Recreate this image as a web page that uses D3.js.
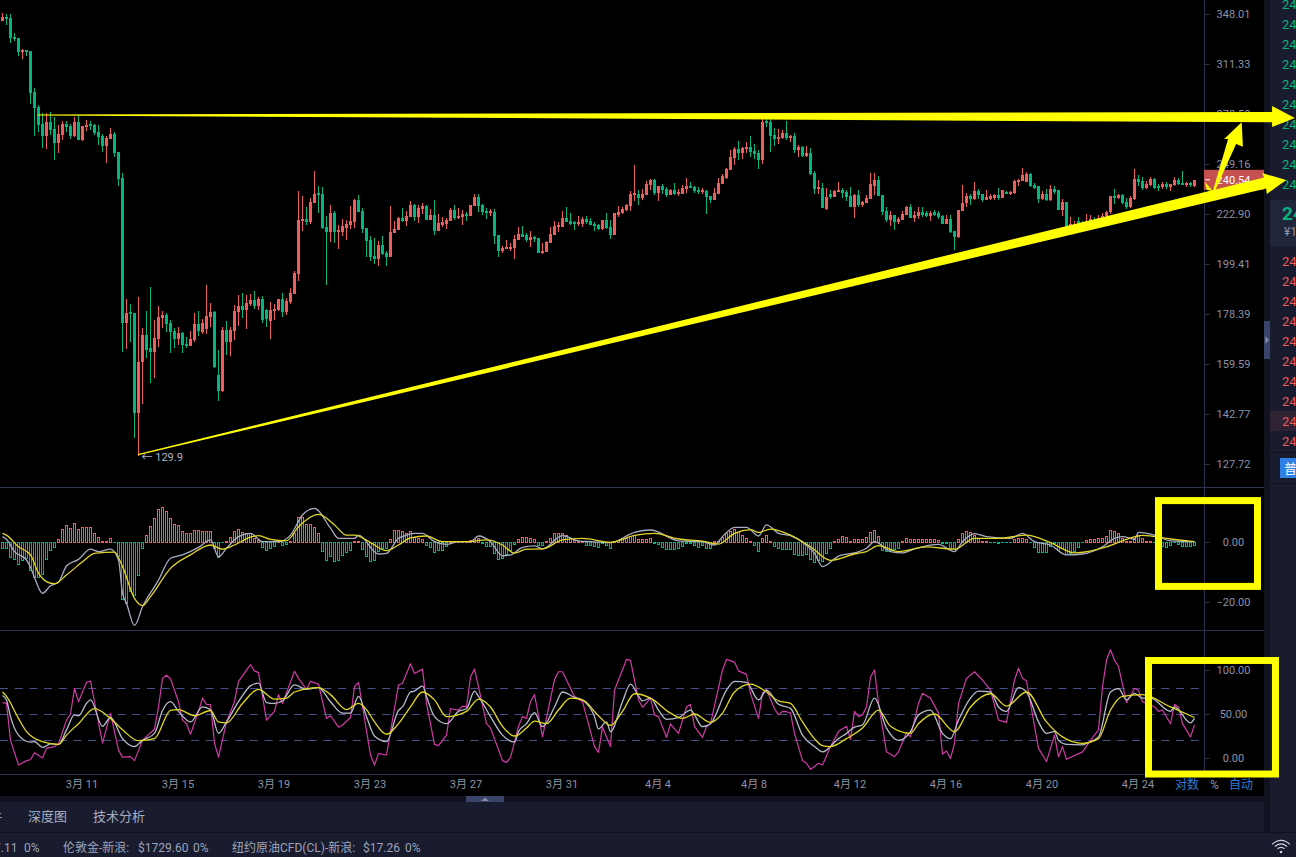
<!DOCTYPE html>
<html>
<head>
<meta charset="utf-8">
<script src="https://cdn.jsdelivr.net/npm/d3@7"></script>
<style>
  html, body { margin: 0; padding: 0; background: #000; overflow: hidden; }
  svg { display: block; }
  text { font-family: Roboto, "Noto Sans CJK SC", sans-serif; }
</style>
</head>
<body>
<svg id="chart" width="1296" height="857"></svg>
<script>
// 4h candles
const opens = [
  342.6,345.5,344.9,330.7,329.9,319.8,321,320.5,292.5,283,
  272.4,265.4,273.6,269.2,261.2,266,272.4,271.2,265.2,273.6,
  263,270.6,272.4,271.8,267.6,265.2,259.5,263.4,266.4,255.9,
  241.6,175,179.1,178.7,143.2,160.2,170.2,165.4,164,168.7,
  176.8,178,174.9,171.7,168.7,171,166.9,166.1,168.3,174.5,
  171.4,172.5,177.2,179.2,155.7,150.3,172.1,167.6,171.7,179.2,
  181.6,180,182.4,184,181.6,184.4,180,175.6,179.6,180,
  184.4,179.2,183.2,186.5,195,219.5,220.4,219,228.4,233.6,
  233.1,216.6,214.2,223.4,214.2,214.2,216.1,217.5,219,230,
  224.4,216.1,210.4,203.1,201.7,208.1,204.4,202.6,213.7,215.1,
  220.9,219.5,221.4,227.4,221.4,225.4,226.9,220,222.4,214.6,
  217.5,218,219.5,224.9,220.9,221.4,222.9,221.9,226.9,231.5,
  227.4,224.4,223.4,223.9,212.7,205.3,206.3,206.3,206.7,210.4,
  213.2,212.7,210.4,211.8,211.3,204.4,204.9,209,212.7,216.6,
  216.6,220.9,219.5,219,218,218,220.4,219.5,218,217.5,
  215.6,220,216.6,212.7,222.4,223.4,224.9,226.9,232.6,233.1,
  231,232.6,237.8,240.5,233.6,237.3,235.7,232.6,235.2,233.1,
  233.1,235.7,237.3,236.7,235.2,234.1,234.6,232,230,233.1,
  238.3,241.6,245.9,252.5,257.6,255.3,257.6,258.8,256.5,255.3,
  251.2,274.2,273.6,265.8,263.4,264,267,264,265.2,257.1,
  258.8,253.6,255.3,244.2,235.7,236.2,225.4,233.1,231.5,234.1,
  235.2,234.1,232,226.4,232.6,227.4,228.4,230.5,237.3,240.5,
  232.6,224.4,220,222.4,219,220,222.4,226.4,220.9,221.9,
  223.9,223.4,221.9,223.9,223.4,221.9,218,220.4,214.6,211.8,
  224.4,228.4,232,230.5,234.6,233.1,230,230.5,231,232.6,
  231,234.1,233.1,233.6,239.4,240,239.4,243.7,237.8,237.3,
  230.5,233.1,230,235.7,235.2,224.9,229,216.6,216.6,219.5,
  219,218,219,220,219.5,220.9,221.9,223.9,232,231,
  232.6,229,226.4,230.5,241,240,236.2,237.8,241,237.3,
  236.7,238.3,236.7,237.8,240.5,239.1,237.7,238.7,237.5
];
const highs = [
  348.5,348,348,333.6,329.9,322.1,321.2,320.7,295.2,284.2,
  279.1,279.1,279.8,276.7,271.6,274.4,274.4,272.4,276.7,277.3,
  271.2,274.8,274.2,272.4,271.8,266.4,265.4,269.8,267.6,255.9,
  244.2,184.6,182.5,178.8,185.3,172.9,179.5,189.6,176,181.6,
  179.6,178.7,176,172.9,173.2,171.4,169.5,171.8,178.7,179.5,
  176.4,190.3,182.7,179.6,164.7,173.3,175.6,173.2,182,186.1,
  187.1,186,186.5,187.7,185.3,185.7,180.4,183.2,182.4,184.4,
  186.9,184.9,189,196.3,234.4,232.2,226.2,230.8,245.3,237.3,
  236.7,221.9,227.4,224.6,217.5,220.4,220,226.9,230.5,232.6,
  225.9,216.1,212.3,211.3,209.9,212.3,205.3,226.9,219.5,221.4,
  225.9,224.4,229.5,227.9,227.4,228.4,227.4,225.4,230,222.9,
  221.4,220.9,225.9,227.4,225.9,224.9,223.9,227.4,233.1,233.1,
  227.9,225.9,225.4,225.4,212.7,207.6,210.4,209,212.7,216.6,
  217,213.7,214.6,212.3,211.3,209,209.9,216.6,219.5,219,
  224.4,226.4,223.4,219.5,221.9,221.4,221.9,220.9,219,218,
  220,223.4,220,223.4,226.9,226.4,227.9,234.6,248.6,235.2,
  235.7,240,241,241,237.3,238.3,236.7,235.7,238.9,235.7,
  237.8,241.6,239.4,237.3,236.7,236.2,235.2,232,236.2,241.6,
  243.7,247,257.1,258.8,262.2,258.8,261.6,265.2,260.5,257.1,
  275.5,275.5,275.5,270,269.4,268.8,274.2,265.8,267,259.9,
  259.3,259.3,258.2,245.3,240.5,238.9,236.2,235.2,235.2,239.4,
  236.2,235.2,236.7,233.1,235.2,229.5,232.6,244.2,244.2,242.6,
  232.6,226.4,224.4,222.4,221.4,224.4,226.9,227.9,224.4,226.4,
  226.4,224.4,224.4,224.9,224.4,222.4,222.4,222.4,214.6,224.9,
  237.8,233.6,233.1,239.4,235.7,233.1,235.2,233.1,233.1,236.2,
  235.2,234.6,234.6,240.5,241,247,244.8,244.2,238.9,237.3,
  234.6,235.7,237.8,237.3,235.2,230.5,229,221.4,219.5,221.4,
  219.5,222.9,222.4,221.4,222.4,223.4,224.4,232,235.7,233.1,
  233.1,231,232,246.4,243.2,242.1,240,242.1,241.6,238.3,
  239.4,239.4,238.3,242.1,241.6,245.3,239.4,239.4,240.5
];
const lows = [
  342.6,339.6,326.6,328,317.2,314.7,317,284.8,265.4,267.6,
  258.3,257.6,266,251.5,255.3,263,267.8,263.4,264.4,263,
  262.2,268.4,269,266,259.9,255.7,249.9,263.4,253,237.5,
  164,165,167.6,135.4,129.9,146,161.9,152.9,154.8,165.6,
  172.9,171.4,163.7,165.4,166.6,163.7,165.3,166.1,167.6,169.7,
  170.6,170.6,173.3,158,147,149.9,162.8,162.5,168.3,173.7,
  176.8,172.6,181.6,180.4,180,174.9,173.3,168.7,176,179.6,
  177.2,178,182.4,186.5,192,214.6,217.5,218,228.4,223.4,
  215.6,190.3,209.5,209,206.3,212.3,210.4,215.6,216.1,223.9,
  213.7,202.6,200.8,199.4,198.5,203.5,198.5,202.6,213.7,215.1,
  219,217,221.4,219.5,218.5,222.9,220,220,212.7,214.6,
  216.6,215.6,219.5,220,220.4,217.5,219.5,221.9,226.9,223.9,
  222.4,220.4,221.9,208.5,202.6,204.4,206.3,205.3,201.7,210.4,
  211.8,209.5,207.2,209.5,204.4,204,204.9,209,212.7,214.2,
  216.6,219,217.5,215.1,217,216.6,218,217.5,214.6,215.1,
  215.1,215.6,210.9,212.7,221.4,222.9,224.4,224.4,229.5,227.4,
  230,232.6,235.2,232.6,229.5,233.1,231.5,232.6,232.6,232,
  233.1,233.6,236.2,233.6,233.1,233.1,222.9,228.4,230,233.1,
  238.3,241,245.9,248.6,251.2,251.8,255.3,253,251.8,246.4,
  249.2,270.6,255.9,259.3,260.5,263.4,262.8,261.6,255.3,253,
  253,253,243.2,233.1,233.1,225.9,224.9,230.5,231.5,234.1,
  231,229.5,226.4,220.9,226.4,226.4,228.4,230.5,232.6,232,
  222.4,219,217,215.1,218,220,222.4,220.9,219,220.4,
  221.4,221.4,219.5,221.9,220.4,218,218,213.7,205.8,211.3,
  224.4,226.4,227.4,230,230.5,229,230,230,230,230,
  231,233.1,232.6,233.1,237.3,240,239.4,236.7,235.7,228.4,
  230,229.5,229.5,233.1,224.9,221.9,216.6,216.6,216.6,216.6,
  217.5,217.5,217.5,218.5,218.5,220,220.9,222.9,227.9,230.5,
  227.9,225.4,225.9,230,237.3,235.2,235.7,237.3,235.7,234.6,
  235.7,235.7,234.6,237.3,237.8,237.7,236.6,236.6,236.9
];
const closes = [
  345.5,344.1,330.2,329,320,321.2,319.8,292.1,282.5,271.8,
  265.4,273.6,269,261.2,266.4,272.4,270.6,265.4,273.6,263,
  271.2,271.8,271.2,267,264.8,259.5,264,266.4,255.3,241,
  175,178.7,178.5,143.2,160.4,170.2,164.7,164,169,177.2,
  178,174.5,171.4,168.7,171,166.5,166.1,168.7,174.5,171.7,
  174.9,177.6,179.2,158.7,150.3,172.1,167.6,172.1,179.6,181.6,
  180,182.8,184,181.6,184.4,176,176.4,180,180.4,184.4,
  179.2,183.6,186.9,195.4,220,220.4,219,229,233.1,232.6,
  216.1,214.2,223.4,214.2,215.1,217,218,219.5,230,223.9,
  215.6,209.9,202.6,201.7,208.1,204,202.6,214.2,215.6,220.9,
  219.5,221.9,227.4,221.4,225.9,226.9,220,222.4,214.6,218.5,
  219,220,224.9,220.9,221.9,222.9,221.9,227.4,231.5,226.9,
  223.9,223.4,224.4,212.3,205.3,206.7,207.2,207.2,210.9,213.2,
  211.8,210.4,211.8,210.9,204.4,205.3,209.5,213.2,217,217.5,
  220.9,219,218,218,219,220.4,219,217.5,217,215.6,
  220,216.1,212.7,223.4,223.9,225.4,227.4,233.1,233.6,231,
  233.1,238.3,240.5,233.6,237.3,235.2,232.6,235.2,233.1,234.1,
  236.2,237.3,236.2,234.6,234.1,235.2,231.5,230,233.6,238.9,
  242.6,246.4,253,257.6,255.3,258.2,258.8,255.9,254.8,251.2,
  273.6,273,265.2,263.4,264.6,267,264,265.2,257.1,258.8,
  253.6,255.3,243.7,235.7,236.7,225.9,231.5,231.5,234.6,235.2,
  233.6,231.5,226.4,232.6,227.4,229,231,238.3,240.5,232,
  223.9,220,222.4,219,220.4,222.9,226.4,220.9,222.4,223.9,
  222.4,221.9,223.4,222.4,221.4,218,220.4,214.2,211.8,224.9,
  228.4,232,230.5,234.6,232.6,230,231.5,232,232.6,231,
  235.2,233.1,234.1,240,240.5,243.2,243.7,237.3,236.2,230.5,
  233.1,230,235.7,234.1,224.9,229,216.6,218,218,218,
  218,219.5,220.4,219,220.9,221.9,223.9,232,231,232.6,
  228.4,226.4,231,241,239.4,236.2,238.3,241,236.2,236.2,
  238.3,236.7,238.3,240.5,238.3,237.7,238.7,237.7,240.5
];

// MACD histogram, one bar per candle
const macdHist = [
  -2.3,-2.3,-5.2,-5.9,-7.6,-6.2,-5.6,-9.6,-11.9,-11.9,
  -10.9,-5.9,-2.9,-1.9,0.9,4.2,5.6,4.4,6.2,4.2,
  5,5,4.7,2.9,1.6,0.2,0.2,1.2,-0.3,-4.9,
  -19,-20.4,-16.6,-17.8,-11.2,-2.2,2.3,5.2,7.9,10.9,
  11.6,10.2,7.9,5.9,5.6,3.6,2.7,2.9,3.8,3.8,
  3.6,3.6,3.6,-2.2,-5.2,-0.3,0.2,1.6,3.6,4.2,
  3.2,2.9,2.9,1.2,0.6,-1.9,-2.9,-2.1,-1.6,0.2,
  -1,-0.7,0.2,2.7,8.2,8.2,5.7,5.9,4.9,2.9,
  -3.2,-6.2,-4.9,-6.4,-6.2,-4.4,-3.6,-2.9,0.3,0.1,
  -2.4,-4.7,-6.4,-6.2,-3.1,-2.2,-2.2,0.9,3.8,3.8,
  3.6,2.9,3.6,1.6,1.1,0.9,-1.1,-1.8,-3.6,-2.9,
  -2.7,-1.6,0.1,0.1,0.1,0.1,0.2,0.4,0.9,1.1,
  -0.4,-1.6,-1.6,-3.8,-5.8,-5.6,-4.2,-2.9,-0.7,0.9,
  1.6,1.4,1.2,1,-1,-1,0.2,1.2,2.7,2.7,
  3,2.1,1.2,0.4,0.1,0.1,-1,-1.3,-1.6,-1.9,
  -0.5,-1.3,-2.2,0.1,0.4,0.9,1.2,2,2.2,0.9,
  0.7,0.9,1.1,-0.4,-0.8,-1.7,-2.4,-2.4,-2.6,-2.2,
  -1.6,-0.4,-0.4,-1.1,-1.8,-1.3,-2,-2.2,0.1,0.2,
  1.6,3,3.6,4.2,3.1,2.2,1.2,0.1,-1.1,-3.2,
  1.2,2.2,0.2,-1.6,-2.2,-2.4,-2.4,-2.4,-4.2,-4.4,
  -4.4,-4.2,-5.7,-6.9,-6.2,-6.4,-3.8,-2.2,0.1,1,
  1.8,1.4,0.1,1,0.9,0.9,1.6,3.2,3.9,2,
  -2.7,-3.2,-2.9,-2.4,-2,0.1,1.2,0.8,0.8,0.8,
  0.8,0.8,0.7,0.7,0.4,-0.4,-0.4,-2.1,-2.4,0.7,
  2.9,3.6,3.1,2.2,1.1,0.1,0.1,-0.3,-0.3,-0.6,
  -0.3,-0.3,-0.3,0.8,1.1,1.2,1,-0.3,-1.9,-3.6,
  -3.6,-3.6,-1.6,-0.4,-2.7,-2.1,-4.3,-3.8,-3.2,-1.8,
  -0.3,0.4,0.8,0.8,1.1,1.3,1.8,3.9,3.4,2.9,
  1.2,0.1,0.1,1.2,2.2,1.2,0.1,0.1,-0.3,-0.8,
  -1.6,-1.8,-1.3,-0.3,-0.8,-1.6,-1.6,-1.6,-1
];

// MACD lines, read at the turning points: candle number and value
const difIndex = [0,1,3,6,7,8,10,12,14,16,19,22,24,27,29,30,31,33,35,39,42,45,49,52,54,56,59,62,65,69,72,75,78,82,84,88,89,94,96,99,100,103,105,108,111,114,117,119,122,125,127,130,133,135,140,144,147,152,158,162,169,175,178,180,183,186,189,191,194,197,200,203,205,209,214,216,218,219,222,225,228,234,238,240,243,246,252,255,258,262,266,270,275,278,280,283,284,288,292,298];
const difValues = [1.8,0.9,-3.2,-6,-8.4,-11.8,-17.1,-14.6,-13.4,-8,-5.8,-2.4,-3.2,-2.4,-6,-17,-20.4,-27.8,-21.6,-12.7,-5.4,-4.3,-1.8,0.7,-4.9,-2.1,1.8,2.9,0.1,0.1,2.3,9,11.2,4.6,1.2,1.2,2.3,-4,-3.8,1.2,1.8,2.9,2.9,0.1,-0.8,0.1,0.1,2,0.1,-4.6,-4.3,-1.8,-1.3,-2.3,2.1,0.4,0.1,-0.2,3.2,4,0.4,0.1,-1,1.8,4.9,4.9,2,5.7,2.9,2.1,-0.1,-3.8,-8.2,-4.7,-3.3,-2.1,0.1,-0.4,-3.2,-3.6,-2.3,-0.8,-3.2,0.1,2.8,1.8,1.2,2.9,0.1,-1,-4.3,-4,-1.6,1.2,1.8,0.9,3.2,2.3,0.4,0.1];
const deaIndex = [0,1,4,7,9,11,13,16,20,23,28,30,33,35,37,42,47,52,55,58,62,64,67,71,74,79,83,86,88,92,96,99,102,106,110,116,121,125,128,131,135,140,145,152,158,163,169,175,179,183,187,189,192,197,202,207,213,216,219,224,231,238,243,249,256,262,268,276,281,285,292,298];
const deaValues = [2.9,2.3,-1.6,-4.3,-10.4,-13.2,-13.9,-11,-6.6,-3.8,-3.4,-8.2,-18.8,-21.2,-18.2,-8.8,-4.3,-1,-2.4,-1,1.6,2.1,0.9,0.4,5.1,9.2,5.7,2.3,2.3,-0.2,-2.9,-1,1.4,2,0.1,0.1,0.7,-1,-3.7,-2.4,-2.3,0.7,1.2,-0.1,2.2,2.9,1,0.3,-0.7,2.9,4.1,3.2,4.3,2.3,-1.6,-6.1,-4,-3.2,-1.2,-3.2,-1.6,-2.4,1.2,1.2,2.3,-0.2,-3.6,-1.6,0.9,2.2,1,0.1];

// stochastic lines, same way
const kIndex = [0,1,2,4,6,7,8,10,11,13,14,16,17,18,19,21,22,25,27,29,30,32,33,35,38,39,40,41,42,44,45,46,47,49,50,51,52,53,54,56,58,59,62,63,64,66,68,69,70,73,74,76,77,79,81,82,84,85,87,88,89,92,93,94,96,99,100,102,103,105,106,108,109,111,112,114,115,116,117,118,119,121,122,125,126,127,129,130,131,132,133,135,138,139,140,143,145,146,148,149,150,152,153,156,157,159,160,162,163,164,166,167,169,171,172,173,175,176,177,180,181,183,184,186,187,189,190,191,193,194,195,196,197,198,200,201,202,204,205,207,209,211,212,213,214,215,216,217,218,219,221,223,224,226,227,229,230,232,234,235,236,237,238,239,241,243,245,247,249,251,253,254,255,256,259,261,263,264,265,266,270,272,274,275,276,277,278,279,281,283,284,285,288,289,290,292,293,294,295,297,298];
const kValues = [63,62,20,-8,-3,-2,6,0,11,13,16,43,50,79,64,86,87.5,17,51,9,1,1.5,-3,20,33,58,90.5,94,90,64,43,39,27,53,68,61,60.6,17,1,41,64,87,106,99,97,43,53,72,62,98.5,90.5,78,87,84,45,48,35,37.5,46,81,86,3.4,-8,5,3.4,83,85,107,96,101,62,15.5,14,26,56,54.5,59,58,92,101,81,39,34,-3,-5,0.4,36,47,45,64,72,24,89,98,98,70,64,47,13,6.4,35,13,77,112,111,66,57.6,68,49,47,23.5,38.6,28,58,61,36,23.5,35.6,39,100,112,109,99,95,73.5,45,73.5,78,56,49,53,52.6,51,28,-3,-6,-13,-6,-8,13,30,36,21,53,47,49,58,92,100,62,7,1.5,7,29,24,62,73.5,68,51,4.5,8,-0.4,16.7,62,90.5,98,88.6,77,43,40.5,88.6,102,90.5,87.5,11,-4,26,1.5,13,-1.5,7,20,32,81,111,123,111,104,63,79,77,64,58,53,54.5,39,61,58,39,24,37.5];
const dIndex = [0,1,2,4,7,8,10,12,14,16,18,19,21,22,25,27,30,33,35,38,40,42,44,47,50,52,54,56,59,62,64,66,68,70,73,76,79,82,85,87,89,91,93,96,99,100,102,103,105,106,108,111,114,116,118,119,122,125,128,129,131,133,135,138,140,143,145,148,149,151,152,155,157,159,160,162,164,166,169,172,175,177,181,183,186,189,191,194,197,200,203,205,209,211,213,215,218,221,224,227,229,232,235,237,239,242,244,247,249,251,254,256,259,261,263,264,266,270,271,274,277,279,281,283,285,287,292,293,297,298];
const dValues = [71,66,47,26,18,18.6,12,16,15.5,32,49,48,62,66,36,46,22,13,20,28,54,64,53,41,58,55,28,41,64,82,85,63,62,65,83,78,80,64,51,51,70,47,25,18.6,54,58,75,76,82,70,47,39,53,56,76,70,47,26,18,30,39,51.5,35.6,58,75,69,66,47,33,41,30,64,84,70.5,65,68,54.5,44,46,54.5,35.6,39,77,87,86,66,77,61,56.4,26,13,7,22,28,35,37.5,68,34,20,30,49,54.5,28,22,43,68,76,75,58,53,80,75,41,28,30,20,15.5,15,16.7,24,75,79,66,73.5,68,68,53,58,40,45];
const jIndex = [0,1,4,6,10,14,16,19,23,27,30,34,38,42,44,48,52,54,56,60,64,68,71,73,79,82,86,89,91,93,96,99,102,105,108,111,116,119,122,125,128,131,133,136,139,142,145,149,152,155,158,162,167,170,173,177,180,183,187,191,194,197,200,203,205,207,211,215,219,222,227,229,233,238,242,247,251,256,261,265,270,274,277,280,285,292,298];
const jValues = [75,70,45,30,18.6,15.5,26,39,56,45,32,19.7,22,54,55,48,54,41,40,62,78,67,68,75,80,72,55,62,55,41,27,39,58,75,66,47,53,67,58,36,25,34,42,39,54.5,68,66,48,37,53,73,68,51,45,50,40.5,51,75,84,75,65,62,41,22,14,13,22,34,54.5,36,28,39,50,30,58,73,59,75,41,24,16.7,22,54.5,70,72,58,46];

// axes
const priceTicks = [348.01, 311.33, 278.50, 249.16, 222.90, 199.41, 178.39, 159.59, 142.77, 127.72];
const macdTicks = [0, -20];
const stochTicks = [100, 50, 0];
const stochLevels = [80, 50, 20];
const timeIndex = [20, 44, 68, 92, 116, 140, 164, 188, 212, 236, 260, 284];
const timeLabels = ["3月 11", "3月 15", "3月 19", "3月 23", "3月 27", "3月 31", "4月 4", "4月 8", "4月 12", "4月 16", "4月 20", "4月 24"];
const lastPrice = 240.54;

// hand drawn yellow marks, in candle number and price
const topArrowIndex = [8.9, 317.4, 317.4, 323.1, 317.4, 317.4, 8.9];
const topArrowPrice = [278.2, 279.8, 283.5, 276.0, 270.6, 273.4, 277.6];
const lowArrowIndex = [33.9, 315.4, 314.9, 320.9, 316.1, 315.9, 33.9];
const lowArrowPrice = [130.6, 241.8, 244.2, 240.4, 233.1, 235.9, 130.2];
const upArrowIndex = [302.6, 306.4, 305.4, 309.8, 310.1, 308.4, 303.1];
const upArrowPrice = [234.6, 263.4, 263.4, 273.4, 258.9, 260.5, 234.6];
const tickMarkIndex = [300.6, 302.6, 301.1];
const tickMarkPrice = [239.4, 234.6, 235.2];

// order book stub on the right
const askRows = d3.range(10).map(() => "24");
const bidRows = d3.range(10).map(() => "24");
const statusItems = [
  { x: -6, t: "7.11" }, { x: 24, t: "0%" },
  { x: 63, t: "伦敦金-新浪:" }, { x: 138, t: "$1729.60" }, { x: 193, t: "0%" },
  { x: 232, t: "纽约原油CFD(CL)-新浪:" }, { x: 363, t: "$17.26" }, { x: 405, t: "0%" }
];

const UP = "#ec5f5f", DOWN = "#04b57f", AXIS = "#2a3350", TEXT = "#8d91a5";
const YELLOW = "#ffff00", PANEL = "#181c2e", GAP = "#10131f";

const svg = d3.select("#chart");
svg.append("rect").attr("width", 1296).attr("height", 857).attr("fill", "#000");

const x = d3.scaleLinear().domain([0, 298]).range([2.5, 1194.5]);
const yPrice = d3.scaleLog().domain([127.72, 348.01]).range([464, 14]);
const yMacd = d3.scaleLinear().domain([-20, 0]).range([602, 542]);
const yStoch = d3.scaleLinear().domain([0, 100]).range([758, 670]);

// app chrome behind the chart
svg.append("rect").attr("x", 0).attr("y", 796).attr("width", 1296).attr("height", 61).attr("fill", GAP);
svg.append("rect").attr("x", 0).attr("y", 802).attr("width", 1264).attr("height", 30).attr("fill", PANEL);
svg.append("rect").attr("x", 0).attr("y", 833).attr("width", 1296).attr("height", 24).attr("fill", PANEL);
svg.append("rect").attr("x", 1264).attr("y", 0).attr("width", 6).attr("height", 832).attr("fill", GAP);
svg.append("rect").attr("x", 1270).attr("y", 0).attr("width", 26).attr("height", 832).attr("fill", PANEL);
svg.append("rect").attr("x", 1270).attr("y", 200).attr("width", 26).attr("height", 46).attr("fill", "#202539");
svg.append("rect").attr("x", 1270).attr("y", 411).attr("width", 26).attr("height", 20).attr("fill", "#2f2233");
svg.append("rect").attr("x", 1270).attr("y", 452).attr("width", 26).attr("height", 1).attr("fill", GAP);
svg.append("rect").attr("x", 1270).attr("y", 483).attr("width", 26).attr("height", 1).attr("fill", GAP);

// panel frame
[487.5, 630.5, 774.5].forEach(y => {
  svg.append("line").attr("x1", 0).attr("x2", 1264).attr("y1", y).attr("y2", y)
    .attr("stroke", AXIS).attr("stroke-width", 1);
});
svg.append("line").attr("x1", 1204.5).attr("x2", 1204.5).attr("y1", 0).attr("y2", 775)
  .attr("stroke", AXIS).attr("stroke-width", 1);

// candles
const candleIdx = d3.range(closes.length);
const candles = svg.append("g").attr("shape-rendering", "crispEdges");
candles.selectAll("line").data(candleIdx).join("line")
  .attr("x1", d => x(d)).attr("x2", d => x(d))
  .attr("y1", d => yPrice(highs[d])).attr("y2", d => yPrice(lows[d]))
  .attr("stroke", d => closes[d] >= opens[d] ? UP : DOWN);
candles.selectAll("rect").data(candleIdx).join("rect")
  .attr("x", d => x(d) - 1.5).attr("width", 3)
  .attr("y", d => yPrice(Math.max(opens[d], closes[d])))
  .attr("height", d => Math.max(1.5, Math.abs(yPrice(opens[d]) - yPrice(closes[d]))))
  .attr("fill", d => closes[d] >= opens[d] ? UP : DOWN);

// MACD
svg.append("g").attr("shape-rendering", "crispEdges")
  .selectAll("rect").data(candleIdx).join("rect")
  .attr("x", d => x(d) - 1).attr("width", 2)
  .attr("y", d => Math.min(yMacd(0), yMacd(macdHist[d])))
  .attr("height", d => Math.abs(yMacd(macdHist[d]) - yMacd(0)))
  .attr("fill", "none")
  .attr("stroke", d => macdHist[d] >= 0 ? UP : DOWN);

function drawLine(index, values, yScale, color, width, curve) {
  const line = d3.line().curve(curve).x(d => x(d)).y((d, i) => yScale(values[i]));
  svg.append("path").attr("d", line(index)).attr("fill", "none")
    .attr("stroke", color).attr("stroke-width", width).attr("stroke-linejoin", "round");
}
drawLine(difIndex, difValues, yMacd, "#a7adc2", 1.3, d3.curveMonotoneX);
drawLine(deaIndex, deaValues, yMacd, "#e2d52a", 1.3, d3.curveMonotoneX);

// stochastic
stochLevels.forEach(v => {
  const y = Math.round(yStoch(v)) + 0.5;
  svg.append("line").attr("x1", 0).attr("x2", 1204).attr("y1", y).attr("y2", y)
    .attr("stroke", "#46508a").attr("stroke-width", 1).attr("stroke-dasharray", "8,6.7");
});
drawLine(kIndex, kValues, yStoch, "#cf3ba6", 1.2, d3.curveLinear);
drawLine(dIndex, dValues, yStoch, "#b6bccc", 1.3, d3.curveMonotoneX);
drawLine(jIndex, jValues, yStoch, "#e2d820", 1.3, d3.curveMonotoneX);

// value axes
function valueAxis(scale, ticks) {
  const g = svg.append("g").attr("transform", "translate(1204.5,0)")
    .call(d3.axisRight(scale).tickValues(ticks).tickSize(5).tickFormat(d3.format(".2f")));
  g.select(".domain").remove();
  g.selectAll("line").attr("stroke", AXIS);
  g.selectAll("text").attr("x", 29).attr("text-anchor", "middle")
    .attr("fill", TEXT).attr("font-size", 11).attr("font-family", "Roboto, sans-serif");
}
valueAxis(yPrice, priceTicks);
valueAxis(yMacd, macdTicks);
valueAxis(yStoch, stochTicks);

// time axis
const timeAxis = svg.append("g").attr("transform", "translate(0,775)")
  .call(d3.axisBottom(x).tickValues(timeIndex).tickSize(0).tickFormat((d, i) => timeLabels[i]));
timeAxis.select(".domain").remove();
timeAxis.selectAll("text").attr("y", 5).attr("dx", -1).attr("fill", TEXT).attr("font-size", 11)
  .attr("font-family", 'Roboto, "Noto Sans CJK SC", sans-serif');

// last price tag
svg.append("rect").attr("x", 1204).attr("y", yPrice(lastPrice) - 10).attr("width", 60).attr("height", 20).attr("fill", "#c4514f");
svg.append("line").attr("x1", 1205).attr("x2", 1210).attr("y1", yPrice(lastPrice)).attr("y2", yPrice(lastPrice)).attr("stroke", "#fff");
svg.append("text").attr("x", 1233.5).attr("y", yPrice(lastPrice) + 4).attr("text-anchor", "middle")
  .attr("fill", "#fff").attr("font-size", 11).text(d3.format(".2f")(lastPrice));

// low marker
svg.append("text").attr("x", x(34) + 3).attr("y", yPrice(129.9) + 5).attr("fill", "#aeb3c6").attr("font-size", 11).text("← 129.9");

// bottom right of the axis
[[1175, "对数", "#2e7bd6"], [1210, "%", TEXT], [1229, "自动", "#2e7bd6"]].forEach(d => {
  svg.append("text").attr("x", d[0]).attr("y", 789).attr("fill", d[2]).attr("font-size", 12).text(d[1]);
});

// tabs and status bar
svg.append("text").attr("x", -11).attr("y", 821).attr("fill", "#a8aec4").attr("font-size", 13).text("件");
svg.append("text").attr("x", 28).attr("y", 821).attr("fill", "#a8aec4").attr("font-size", 13).text("深度图");
svg.append("text").attr("x", 93).attr("y", 821).attr("fill", "#a8aec4").attr("font-size", 13).text("技术分析");
svg.selectAll(".status").data(statusItems).join("text").attr("class", "status")
  .attr("x", d => d.x).attr("y", 852).attr("fill", "#9ea3b9").attr("font-size", 12).text(d => d.t);

// order book rows
const askY = d3.scalePoint().domain(d3.range(askRows.length)).range([4, 184]);
const bidY = d3.scalePoint().domain(d3.range(bidRows.length)).range([261, 441]);
svg.selectAll(".ask").data(askRows).join("text").attr("class", "ask")
  .attr("x", 1282).attr("y", (d, i) => askY(i) + 5).attr("fill", DOWN).attr("font-size", 13).text(d => d);
svg.selectAll(".bid").data(bidRows).join("text").attr("class", "bid")
  .attr("x", 1282).attr("y", (d, i) => bidY(i) + 5).attr("fill", "#ee5a5a").attr("font-size", 13).text(d => d);
svg.append("text").attr("x", 1282).attr("y", 220).attr("fill", DOWN).attr("font-size", 19).attr("font-weight", 700).text("24");
svg.append("text").attr("x", 1284).attr("y", 236).attr("fill", "#8b90a5").attr("font-size", 12).text("¥1");
svg.append("rect").attr("x", 1280).attr("y", 458).attr("width", 16).attr("height", 20).attr("fill", "#2f80e4");
svg.append("text").attr("x", 1284).attr("y", 473).attr("fill", "#fff").attr("font-size", 13).text("普");

// little handles
svg.append("rect").attr("x", 1264).attr("y", 321).attr("width", 6).attr("height", 38).attr("fill", "#3a4368");
svg.append("path").attr("d", "M1265.5,336L1269,340L1265.5,344Z").attr("fill", "#8288a6");
svg.append("rect").attr("x", 466).attr("y", 796).attr("width", 38).attr("height", 6).attr("fill", "#3a4368");
svg.append("path").attr("d", "M481,801L485,797.5L489,801Z").attr("fill", "#8288a6");

// wifi
const wifi = svg.append("g").attr("transform", "translate(1281,852)").attr("fill", "#cfd3dd");
[4, 7.5, 11].forEach(r => {
  wifi.append("path").attr("d", d3.arc().innerRadius(r).outerRadius(r + 1.2).startAngle(-0.85).endAngle(0.85)());
});
wifi.append("circle").attr("r", 1.3);

// yellow annotations, on top of everything
function drawPolygon(index, prices) {
  const shape = d3.line().x(d => x(d)).y((d, i) => yPrice(prices[i]));
  svg.append("path").attr("d", shape(index) + "Z").attr("fill", YELLOW);
}
drawPolygon(topArrowIndex, topArrowPrice);
drawPolygon(lowArrowIndex, lowArrowPrice);
drawPolygon(upArrowIndex, upArrowPrice);
drawPolygon(tickMarkIndex, tickMarkPrice);

svg.append("rect").attr("x", x(289)).attr("y", yMacd(13.8)).attr("width", x(313.75) - x(289))
  .attr("height", yMacd(-14.8) - yMacd(13.8)).attr("fill", "none").attr("stroke", YELLOW).attr("stroke-width", 7);
svg.append("rect").attr("x", x(286.5)).attr("y", yStoch(110.8)).attr("width", x(318.25) - x(286.5))
  .attr("height", yStoch(-18.2) - yStoch(110.8)).attr("fill", "none").attr("stroke", YELLOW).attr("stroke-width", 7);
</script>
</body>
</html>
